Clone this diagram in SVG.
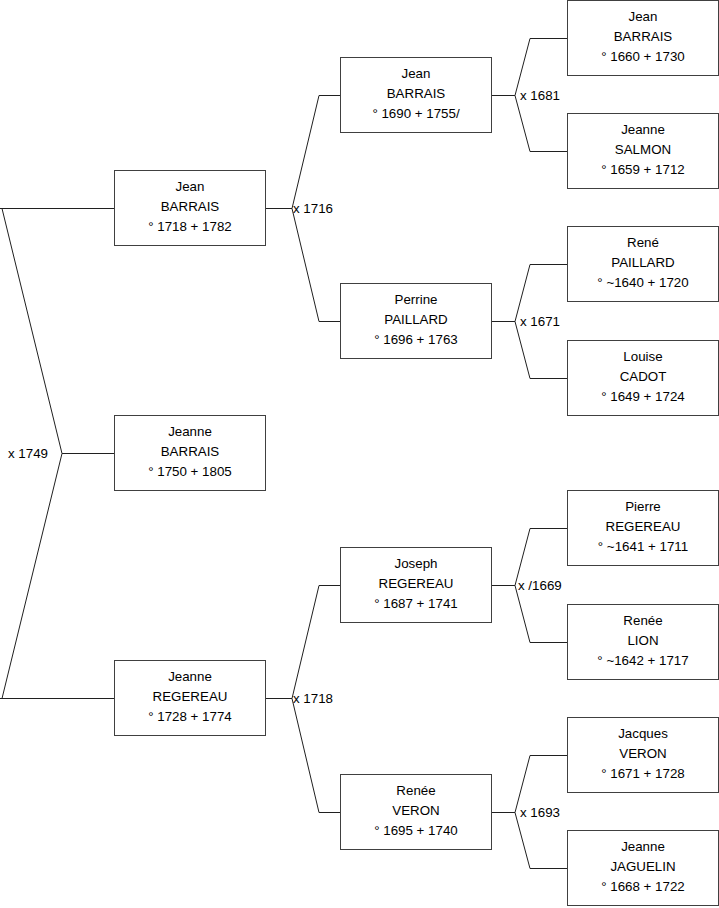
<svg xmlns="http://www.w3.org/2000/svg" width="719" height="908" viewBox="0 0 719 908">
<style>
.box{fill:#fff;stroke:#404040;stroke-width:1}
.ln{fill:none;stroke:#202020;stroke-width:1}
text{font-family:"Liberation Sans",Arial,sans-serif;font-size:13.33px;fill:#000}
.c{text-anchor:middle}
</style>
<rect width="719" height="908" fill="#fff"/>
<g id="connectors">
<path class="ln" d="M0,208.5H114.5 M2,208.5L62,453.5L2,698.5 M0,698.5H114.5 M62,453.5H114.5"/>
<path class="ln" d="M265.5,208.5H292 M319,95.5L292,208.5L319,321.5 M319,95.5H340.5 M319,321.5H340.5"/>
<path class="ln" d="M265.5,698.5H292 M319,585.5L292,698.5L319,812.5 M319,585.5H340.5 M319,812.5H340.5"/>
<path class="ln" d="M491.5,95.5H515 M530,38.5L515,95.5L530,151.5 M530,38.5H567.5 M530,151.5H567.5"/>
<path class="ln" d="M491.5,321.5H515 M530,264.5L515,321.5L530,378.5 M530,264.5H567.5 M530,378.5H567.5"/>
<path class="ln" d="M491.5,585.5H515 M530,528.5L515,585.5L530,642.5 M530,528.5H567.5 M530,642.5H567.5"/>
<path class="ln" d="M491.5,812.5H515 M530,755.5L515,812.5L530,868.5 M530,755.5H567.5 M530,868.5H567.5"/>
<text x="8" y="457.5">x 1749</text>
<text x="293" y="213">x 1716</text>
<text x="293" y="703">x 1718</text>
<text x="520" y="99.5">x 1681</text>
<text x="520" y="326">x 1671</text>
<text x="518" y="590">x /1669</text>
<text x="520" y="817">x 1693</text>
</g>
<g id="n1"><rect class="box" x="114.5" y="170.5" width="151" height="75"/><text class="c" x="190" y="191">Jean</text><text class="c" x="190" y="211">BARRAIS</text><text class="c" x="190" y="231">° 1718 + 1782</text></g>
<g id="n2"><rect class="box" x="114.5" y="415.5" width="151" height="75"/><text class="c" x="190" y="436">Jeanne</text><text class="c" x="190" y="456">BARRAIS</text><text class="c" x="190" y="476">° 1750 + 1805</text></g>
<g id="n3"><rect class="box" x="114.5" y="660.5" width="151" height="75"/><text class="c" x="190" y="681">Jeanne</text><text class="c" x="190" y="701">REGEREAU</text><text class="c" x="190" y="721">° 1728 + 1774</text></g>
<g id="n4"><rect class="box" x="340.5" y="57.5" width="151" height="75"/><text class="c" x="416" y="78">Jean</text><text class="c" x="416" y="98">BARRAIS</text><text class="c" x="416" y="118">° 1690 + 1755/</text></g>
<g id="n5"><rect class="box" x="340.5" y="283.5" width="151" height="75"/><text class="c" x="416" y="304">Perrine</text><text class="c" x="416" y="324">PAILLARD</text><text class="c" x="416" y="344">° 1696 + 1763</text></g>
<g id="n6"><rect class="box" x="340.5" y="547.5" width="151" height="75"/><text class="c" x="416" y="568">Joseph</text><text class="c" x="416" y="588">REGEREAU</text><text class="c" x="416" y="608">° 1687 + 1741</text></g>
<g id="n7"><rect class="box" x="340.5" y="774.5" width="151" height="75"/><text class="c" x="416" y="795">Renée</text><text class="c" x="416" y="815">VERON</text><text class="c" x="416" y="835">° 1695 + 1740</text></g>
<g id="n8"><rect class="box" x="567.5" y="0.5" width="151" height="75"/><text class="c" x="643" y="21">Jean</text><text class="c" x="643" y="41">BARRAIS</text><text class="c" x="643" y="61">° 1660 + 1730</text></g>
<g id="n9"><rect class="box" x="567.5" y="113.5" width="151" height="75"/><text class="c" x="643" y="134">Jeanne</text><text class="c" x="643" y="154">SALMON</text><text class="c" x="643" y="174">° 1659 + 1712</text></g>
<g id="n10"><rect class="box" x="567.5" y="226.5" width="151" height="75"/><text class="c" x="643" y="247">René</text><text class="c" x="643" y="267">PAILLARD</text><text class="c" x="643" y="287">° ~1640 + 1720</text></g>
<g id="n11"><rect class="box" x="567.5" y="340.5" width="151" height="75"/><text class="c" x="643" y="361">Louise</text><text class="c" x="643" y="381">CADOT</text><text class="c" x="643" y="401">° 1649 + 1724</text></g>
<g id="n12"><rect class="box" x="567.5" y="490.5" width="151" height="75"/><text class="c" x="643" y="511">Pierre</text><text class="c" x="643" y="531">REGEREAU</text><text class="c" x="643" y="551">° ~1641 + 1711</text></g>
<g id="n13"><rect class="box" x="567.5" y="604.5" width="151" height="75"/><text class="c" x="643" y="625">Renée</text><text class="c" x="643" y="645">LION</text><text class="c" x="643" y="665">° ~1642 + 1717</text></g>
<g id="n14"><rect class="box" x="567.5" y="717.5" width="151" height="75"/><text class="c" x="643" y="738">Jacques</text><text class="c" x="643" y="758">VERON</text><text class="c" x="643" y="778">° 1671 + 1728</text></g>
<g id="n15"><rect class="box" x="567.5" y="830.5" width="151" height="75"/><text class="c" x="643" y="851">Jeanne</text><text class="c" x="643" y="871">JAGUELIN</text><text class="c" x="643" y="891">° 1668 + 1722</text></g>
</svg>
